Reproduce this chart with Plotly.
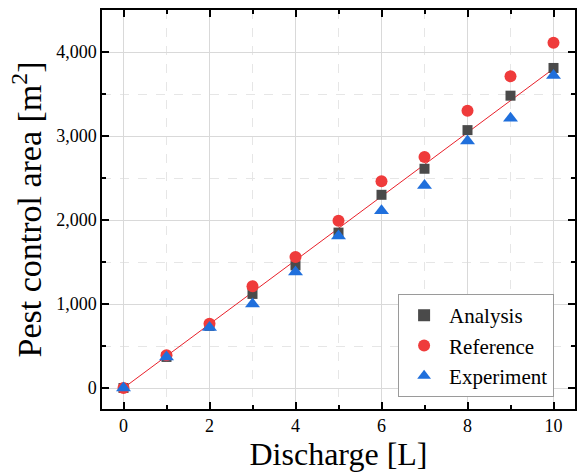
import numpy as np
import plotly.graph_objects as go

discharge = [0, 1, 2, 3, 4, 5, 6, 7, 8, 9, 10]
analysis = [0, 370, 740, 1120, 1460, 1850, 2300, 2610, 3070, 3480, 3810]
reference = [0, 390, 765, 1210, 1560, 1990, 2460, 2750, 3300, 3710, 4110]
experiment = [0, 370, 720, 1000, 1380, 1810, 2110, 2410, 2940, 3210, 3720]

slope = np.dot(discharge, analysis) / np.dot(discharge, discharge)
fit_x = [discharge[0], discharge[-1]]
fit_y = [slope * v for v in fit_x]

font = "Liberation Serif"

fig = go.Figure()
fig.add_trace(go.Scatter(x=fit_x, y=fit_y, mode="lines",
                         line=dict(color="#e8202a", width=1), showlegend=False))
fig.add_trace(go.Scatter(x=discharge, y=analysis, mode="markers", name="Analysis",
                         marker=dict(symbol="square", size=10, color="#4a4a4a")))
fig.add_trace(go.Scatter(x=discharge, y=reference, mode="markers", name="Reference",
                         marker=dict(symbol="circle", size=12, color="#ef3b3b")))
fig.add_trace(go.Scatter(x=discharge, y=experiment, mode="markers", name="Experiment",
                         marker=dict(symbol="triangle-up", size=13, color="#1f6fdc")))

axis_common = dict(
    showline=True, linecolor="black", linewidth=1.5, mirror="ticks",
    ticks="inside", ticklen=7, tickwidth=1.5, tickcolor="black",
    showgrid=True, gridcolor="#d9d9d9", gridwidth=1,
    zeroline=False, automargin=False,
    tickfont=dict(family=font, size=18, color="black"),
)

fig.update_xaxes(**axis_common, range=[-0.5, 10.5], tickvals=[0, 2, 4, 6, 8, 10],
                 minor=dict(tickvals=[1, 3, 5, 7, 9], ticks="inside", ticklen=4,
                            tickcolor="black", showgrid=True, gridcolor="#e6e6e6",
                            griddash="dash"),
                 title=dict(text="Discharge [L]", font=dict(family=font, size=32, color="black"),
                            standoff=6))
fig.update_yaxes(**axis_common, range=[-250, 4500], tickvals=[0, 1000, 2000, 3000, 4000],
                 tickformat=",d",
                 minor=dict(tickvals=[500, 1500, 2500, 3500], ticks="inside", ticklen=4,
                            tickcolor="black", showgrid=True, gridcolor="#e6e6e6",
                            griddash="dash"),
                 title=dict(text="Pest control area [m<sup>2</sup>]",
                            font=dict(family=font, size=34, color="black"), standoff=4))

fig.update_layout(
    width=578, height=474,
    margin=dict(l=102, r=3, t=10, b=65),
    plot_bgcolor="white", paper_bgcolor="white",
    font=dict(family=font),
    legend=dict(x=0.626, y=0.288, xanchor="left", yanchor="top",
                bordercolor="#9a9a9a", borderwidth=1, bgcolor="white",
                font=dict(family=font, size=21, color="black"),
                itemsizing="constant", itemwidth=40, tracegroupgap=0),
)

fig.write_html("out.html", config={"displayModeBar": False},
               post_script="document.body.style.margin='0';document.body.style.overflow='hidden';")
